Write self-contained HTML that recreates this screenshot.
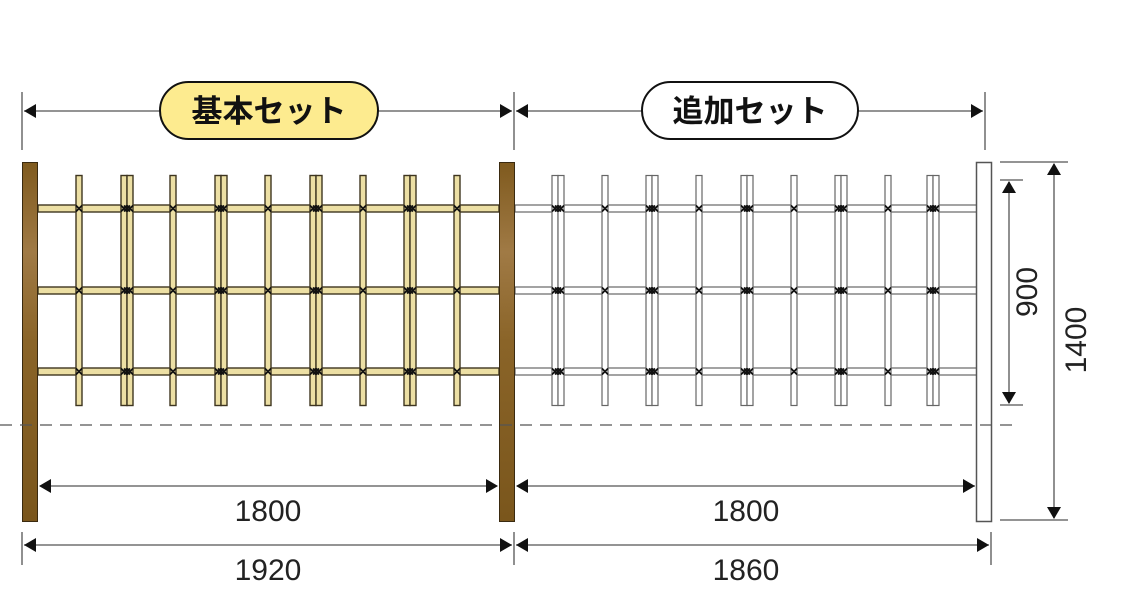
<!DOCTYPE html>
<html><head><meta charset="utf-8"><style>
html,body{margin:0;padding:0;background:#fff;width:1124px;height:595px;overflow:hidden}
text{font-family:"Liberation Sans","Noto Sans CJK JP",sans-serif}
</style></head><body>
<svg id="s" width="1124" height="595" viewBox="0 0 1124 595" xmlns="http://www.w3.org/2000/svg">
<defs>
<linearGradient id="pg" x1="0" y1="0" x2="0" y2="1">
<stop offset="0" stop-color="#7f5a1e"/><stop offset="0.25" stop-color="#a07a45"/><stop offset="0.5" stop-color="#8a6428"/><stop offset="1" stop-color="#7a561c"/>
</linearGradient>
</defs>
<g id="fence"></g>
<rect x="22.5" y="162.5" width="15" height="359" fill="url(#pg)" stroke="#3a2a10" stroke-width="1"/>
<rect x="499.5" y="162.5" width="15" height="359" fill="url(#pg)" stroke="#3a2a10" stroke-width="1"/>
<rect x="976.5" y="162.5" width="15" height="359" fill="#fff" stroke="#555" stroke-width="1.5"/>
<line x1="0" y1="425" x2="1015" y2="425" stroke="#555" stroke-width="1.3" stroke-dasharray="12,8"/>
<g stroke="#555" stroke-width="1.3" fill="none">
<line x1="22" y1="92" x2="22" y2="150"/><line x1="514" y1="92" x2="514" y2="150"/><line x1="985" y1="92" x2="985" y2="150"/>
<line x1="24" y1="111" x2="512" y2="111"/><line x1="516" y1="111" x2="983" y2="111"/>
<line x1="40" y1="486" x2="497" y2="486"/><line x1="517" y1="486" x2="975" y2="486"/>
<line x1="22" y1="532" x2="22" y2="565"/><line x1="514" y1="532" x2="514" y2="565"/><line x1="991" y1="532" x2="991" y2="565"/>
<line x1="24" y1="545" x2="512" y2="545"/><line x1="516" y1="545" x2="989" y2="545"/>
<line x1="1000" y1="180" x2="1023" y2="180"/><line x1="1000" y1="405" x2="1023" y2="405"/>
<line x1="1009" y1="182" x2="1009" y2="403"/>
<line x1="1000" y1="162" x2="1068" y2="162"/><line x1="1000" y1="520" x2="1068" y2="520"/>
<line x1="1054" y1="164" x2="1054" y2="518"/>
</g>
<g fill="#111">
<polygon points="24,111 36,104 36,118"/><polygon points="512,111 500,104 500,118"/>
<polygon points="516,111 528,104 528,118"/><polygon points="983,111 971,104 971,118"/>
<polygon points="39,486 51,479 51,493"/><polygon points="498,486 486,479 486,493"/>
<polygon points="516,486 528,479 528,493"/><polygon points="975,486 963,479 963,493"/>
<polygon points="24,545 36,538 36,552"/><polygon points="512,545 500,538 500,552"/>
<polygon points="516,545 528,538 528,552"/><polygon points="989,545 977,538 977,552"/>
<polygon points="1009,181 1002,193 1016,193"/><polygon points="1009,404 1002,392 1016,392"/>
<polygon points="1054,163 1047,175 1061,175"/><polygon points="1054,519 1047,507 1061,507"/>
</g>
<rect x="160" y="82" width="218" height="57" rx="28.5" fill="#fdeb8f" stroke="#111" stroke-width="2"/>
<text x="269" y="122" font-size="31" font-weight="bold" text-anchor="middle" fill="#111">基本セット</text>
<rect x="642" y="82" width="216" height="57" rx="28.5" fill="#fff" stroke="#111" stroke-width="2"/>
<text x="750" y="122" font-size="31" font-weight="bold" text-anchor="middle" fill="#111">追加セット</text>
<g font-size="30" fill="#222" text-anchor="middle">
<text x="268" y="521">1800</text><text x="746" y="521">1800</text>
<text x="268" y="580">1920</text><text x="746" y="580">1860</text>
<text transform="translate(1026,292) rotate(-90)" x="0" y="11">900</text>
<text transform="translate(1075,340) rotate(-90)" x="0" y="11">1400</text>
</g>
</svg>
<script>
var g=document.getElementById('fence'),ns='http://www.w3.org/2000/svg';
function r(x,y,w,h,f,s,sw){var e=document.createElementNS(ns,'rect');e.setAttribute('x',x);e.setAttribute('y',y);e.setAttribute('width',w);e.setAttribute('height',h);e.setAttribute('fill',f);e.setAttribute('stroke',s);e.setAttribute('stroke-width',sw);g.appendChild(e);}
function x(cx,cy){var e=document.createElementNS(ns,'path');e.setAttribute('d','M'+(cx-3)+' '+(cy-3)+'L'+(cx+3)+' '+(cy+3)+'M'+(cx+3)+' '+(cy-3)+'L'+(cx-3)+' '+(cy+3));e.setAttribute('stroke','#111');e.setAttribute('stroke-width','1.8');g.appendChild(e);}
var rails=[208.5,290.5,371.5];
var L=[79,127,173,221,268,316,363,410,457],R=[558,605,652,699,747,794,841,888,933];
function sec(cs,x0,x1,fill,st,sw,dblFirst){
 rails.forEach(function(y){r(x0,y-3.5,x1-x0,7,fill,st,sw);});
 cs.forEach(function(c,i){var d=(i%2==0)==dblFirst;
  if(d){r(c-6,175.5,6,230,fill,st,sw);r(c,175.5,6,230,fill,st,sw);}else r(c-3,175.5,6,230,fill,st,sw);
  rails.forEach(function(y){x(c,y);if(d){x(c-3,y);x(c+3,y);}});});
}
sec(L,38,499,'#ecdfa4','#3e3520',1.4,false);
sec(R,515,977,'#fff','#666',1.2,true);
</script>
</body></html>
